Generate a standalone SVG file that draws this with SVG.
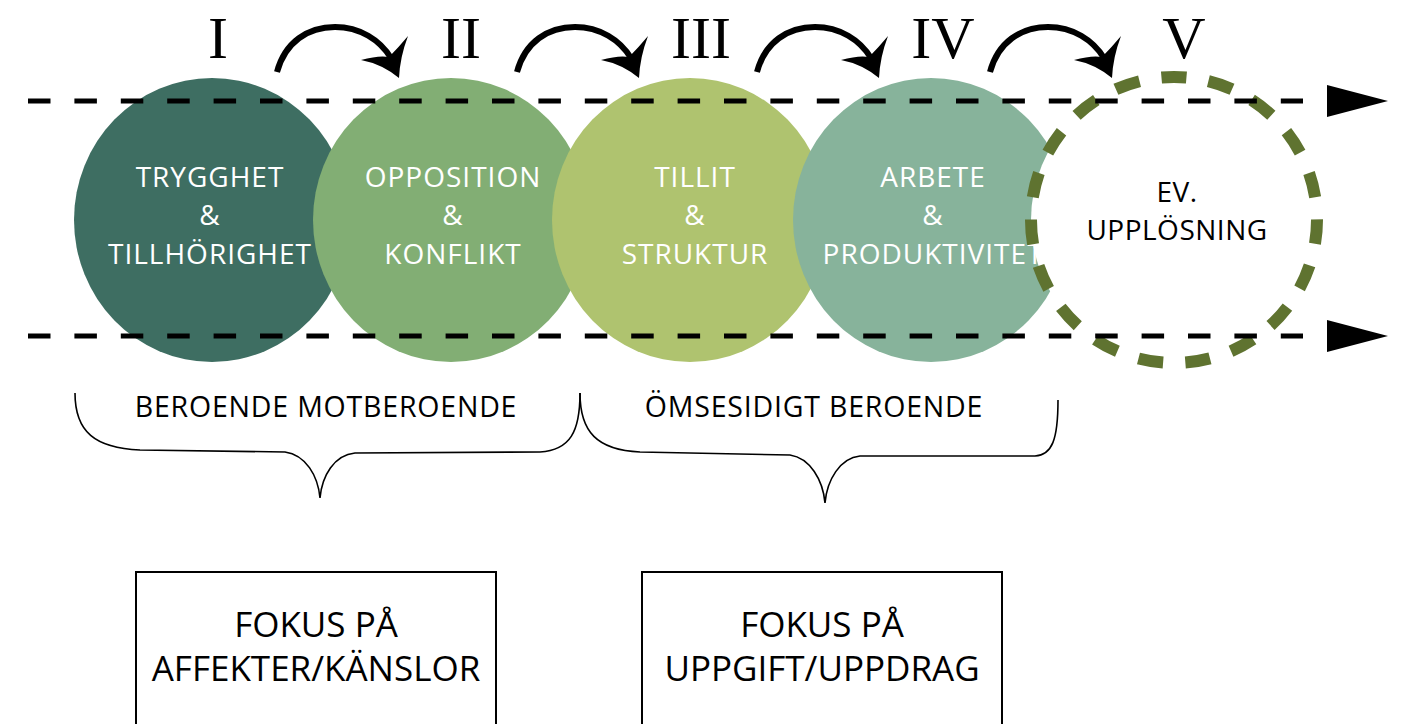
<svg xmlns="http://www.w3.org/2000/svg" xmlns:xlink="http://www.w3.org/1999/xlink" width="1402" height="724" viewBox="0 0 1402 724">
<style>
.stage{stroke:none}
.ctext{font-family:"Open Sans","Noto Sans",sans-serif;font-size:28px;letter-spacing:1px;fill:#ffffff;text-anchor:middle}
.dtext{font-family:"Open Sans","Noto Sans",sans-serif;font-size:28px;letter-spacing:0.5px;fill:#000000;text-anchor:middle}
.num{font-family:"Liberation Serif","Times New Roman",serif;font-size:60px;fill:#000000;text-anchor:middle}
.guide{stroke:#000000;stroke-width:5;stroke-dasharray:22.5 23.9;fill:none}
.brace{stroke:#000000;stroke-width:1.6;fill:none}
.btext{font-family:"Open Sans","Noto Sans",sans-serif;font-size:28.5px;letter-spacing:0.8px;fill:#000000;text-anchor:middle}
.box{fill:#ffffff;stroke:#000000;stroke-width:2}
.ftext{font-family:"Open Sans","Noto Sans",sans-serif;font-size:35px;fill:#000000;text-anchor:middle}
</style>
<defs>
<g id="curvearrow">
<path d="M277,72 C285,42 308,27 335,27 C360,27 380,40 391,58" fill="none" stroke="#000" stroke-width="6"/>
<path d="M399,78 Q382,64 361,60 Q379,55 389,57 Q398,48 408,36 Q400,57 399,78 Z" fill="#000"/>
</g>
</defs>

<g id="stage1"><ellipse class="stage" cx="212" cy="220" rx="138" ry="142" fill="#3E6E62"/>
<text class="ctext" x="210" y="187">TRYGGHET</text><text class="ctext" x="210" y="225">&amp;</text><text class="ctext" x="210" y="264">TILLHÖRIGHET</text></g>
<g id="stage2"><ellipse class="stage" cx="451" cy="220" rx="138" ry="142" fill="#82AE74"/>
<text class="ctext" x="453" y="187">OPPOSITION</text><text class="ctext" x="453" y="225">&amp;</text><text class="ctext" x="453" y="264">KONFLIKT</text></g>
<g id="stage3"><ellipse class="stage" cx="690" cy="220" rx="138" ry="142" fill="#AFC36F"/>
<text class="ctext" x="695" y="187">TILLIT</text><text class="ctext" x="695" y="225">&amp;</text><text class="ctext" x="695" y="264">STRUKTUR</text></g>
<g id="stage4"><ellipse class="stage" cx="931" cy="220" rx="138" ry="142" fill="#87B39B"/>
<text class="ctext" x="933" y="187">ARBETE</text><text class="ctext" x="933" y="225">&amp;</text><text class="ctext" x="933" y="264">PRODUKTIVITET</text></g>
<g id="stage5"><circle cx="1174" cy="220" r="143" fill="#ffffff" stroke="#5F7330" stroke-width="12" stroke-dasharray="25 22.29" stroke-dashoffset="1"/>
<text class="dtext" x="1177" y="202">EV.</text><text class="dtext" x="1177" y="240">UPPLÖSNING</text></g>

<g id="connectors">
<line class="guide" x1="28" y1="101" x2="1303" y2="101"/>
<line class="guide" x1="28" y1="336" x2="1303" y2="336"/>
<polygon points="1327,85 1388,101 1327,117" fill="#000"/>
<polygon points="1327,320 1388,336 1327,352" fill="#000"/>
<use xlink:href="#curvearrow"/>
<use xlink:href="#curvearrow" transform="translate(240,0)"/>
<use xlink:href="#curvearrow" transform="translate(480,0)"/>
<use xlink:href="#curvearrow" transform="translate(713,0)"/>
</g>

<g id="numerals">
<text class="num" x="218" y="58">I</text>
<text class="num" x="461" y="58">II</text>
<text class="num" x="701" y="58">III</text>
<text class="num" x="943" y="58">IV</text>
<text class="num" x="1184" y="58">V</text>
</g>

<g id="brace1">
<path class="brace" d="M75,393 C75,432 95,448 140,450 L285,452 C306,455 318,476 320,498 C322,476 334,455 355,453 L540,452 C570,450 580,432 580,393"/>
<text class="btext" x="326" y="417">BEROENDE MOTBEROENDE</text>
</g>
<g id="brace2">
<path class="brace" d="M580,393 C580,432 597,450 640,452 L790,455 C810,458 823,480 825,503 C827,480 840,458 860,456 L1035,456 C1052,455 1058,440 1058,400"/>
<text class="btext" x="814" y="417">ÖMSESIDIGT BEROENDE</text>
</g>

<g id="focus1">
<rect class="box" x="136" y="572" width="360" height="170"/>
<text class="ftext" x="316" y="637">FOKUS PÅ</text>
<text class="ftext" x="316" y="681">AFFEKTER/KÄNSLOR</text>
</g>
<g id="focus2">
<rect class="box" x="642" y="572" width="360" height="170"/>
<text class="ftext" x="822" y="637">FOKUS PÅ</text>
<text class="ftext" x="822" y="681">UPPGIFT/UPPDRAG</text>
</g>
</svg>
